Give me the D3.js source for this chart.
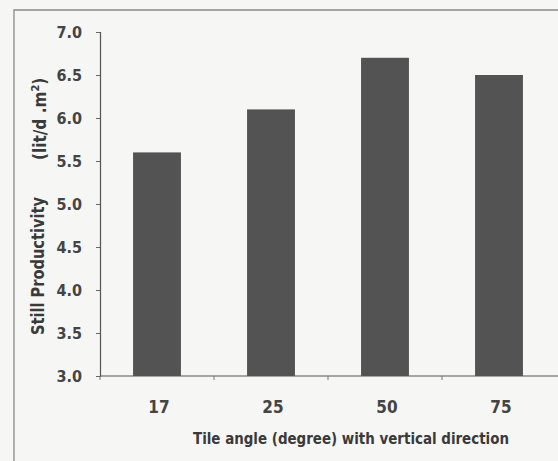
<!DOCTYPE html>
<html>
<head>
<meta charset="utf-8">
<script src="https://cdn.jsdelivr.net/npm/d3@7"></script>
<style>
	body { margin: 0; background: #f6f6f4; }
	svg { display: block; }
	text { font-family: "DejaVu Sans Condensed", "DejaVu Sans", sans-serif; font-stretch: condensed; fill: #3a3a3a; }
</style>
</head>
<body>
<svg id="chart"></svg>
<script>
var width = 558, height = 461;
var angles = ["17", "25", "50", "75"];
var productivity = [5.6, 6.1, 6.7, 6.5];
var yTicks = [3.0, 3.5, 4.0, 4.5, 5.0, 5.5, 6.0, 6.5, 7.0];

var margin = {top: 32, right: 2, bottom: 85, left: 100};
var svg = d3.select('#chart')
	.attr('width', width)
	.attr('height', height);

// scanned page frame, only top and left edge are visible
svg.append('path')
	.attr('d', `M14,${height} L14,10 L${width},10`)
	.attr('fill', 'none')
	.attr('stroke', '#8a8a8a')
	.attr('stroke-width', 1.3);

var x = d3.scaleBand()
	.domain(angles)
	.range([margin.left, width - margin.right])
	.paddingInner(0.58)
	.paddingOuter(0.29);

var y = d3.scaleLinear()
	.domain([3, 7])
	.range([height - margin.bottom, margin.top]);

svg.selectAll('rect.bar')
	.data(productivity)
	.enter().append('rect')
		.attr('class', 'bar')
		.attr('x', (d, i) => x(angles[i]))
		.attr('y', d => y(d))
		.attr('width', x.bandwidth())
		.attr('height', d => y(3) - y(d))
		.attr('fill', '#535353');

// y axis
var yAxis = svg.append('g')
	.attr('transform', `translate(${margin.left}, 0)`)
	.call(d3.axisLeft(y).tickValues(yTicks).tickFormat(d3.format('.1f')).tickSize(4).tickPadding(14));
yAxis.select('.domain').attr('stroke', '#555').attr('stroke-width', 1.2);
yAxis.selectAll('.tick line').attr('stroke', '#666');
yAxis.selectAll('text')
	.attr('font-size', 16)
	.attr('font-weight', 'bold')
	.style('fill', '#444');

// x axis, ticks between categories
var xAxisG = svg.append('g')
	.attr('transform', `translate(0, ${y(3)})`);
xAxisG.append('line')
	.attr('x1', margin.left).attr('x2', width)
	.attr('stroke', '#555').attr('stroke-width', 1.2);
var step = x.step();
var bounds = d3.range(angles.length).map(i => x(angles[i]) - x.paddingOuter() * step);
xAxisG.selectAll('line.tk')
	.data(bounds)
	.enter().append('line')
		.attr('class', 'tk')
		.attr('x1', d => d).attr('x2', d => d)
		.attr('y1', 0).attr('y2', 4)
		.attr('stroke', '#777');
xAxisG.selectAll('text.lbl')
	.data(angles)
	.enter().append('text')
		.attr('class', 'lbl')
		.attr('x', d => x(d) + x.bandwidth() / 2 + 2)
		.attr('y', 37)
		.attr('text-anchor', 'middle')
		.attr('font-size', 17)
		.attr('font-weight', 'bold')
		.style('fill', '#444')
		.text(d => d);

svg.append('text')
	.attr('x', 351)
	.attr('y', 444)
	.attr('text-anchor', 'middle')
	.attr('font-size', 16)
	.attr('font-weight', 'bold')
	.attr('textLength', 316)
	.attr('lengthAdjust', 'spacingAndGlyphs')
	.text('Tile angle (degree) with vertical direction');

svg.append('text')
	.attr('transform', 'translate(44, 335) rotate(-90)')
	.attr('font-size', 17)
	.attr('font-weight', 'bold')
	.attr('textLength', 138)
	.attr('lengthAdjust', 'spacingAndGlyphs')
	.text('Still Productivity');

var unit = svg.append('text')
	.attr('transform', 'translate(46, 160) rotate(-90)')
	.attr('font-size', 17)
	.attr('font-weight', 'bold');
unit.append('tspan').text('(lit/d .m');
unit.append('tspan').attr('dy', -7).attr('font-size', 11).text('2');
unit.append('tspan').attr('dy', 7).text(')');
</script>
</body>
</html>
